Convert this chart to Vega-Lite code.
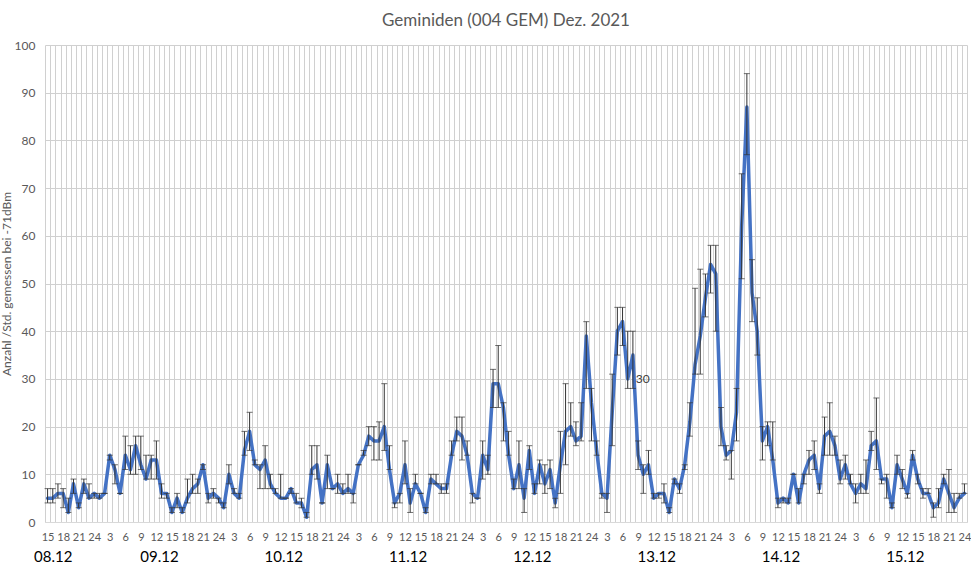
{
  "$schema": "https://vega.github.io/schema/vega-lite/v6.json",
  "description": "Geminiden (004 GEM) Dez. 2021 - stündliche Raten mit Fehlerbalken",
  "autosize": "none",
  "width": 922,
  "height": 477,
  "padding": {"left": 45, "top": 45, "right": 4, "bottom": 51},
  "background": "white",
  "title": {
    "text": "Geminiden (004 GEM) Dez. 2021",
    "fontSize": 17,
    "fontWeight": "normal",
    "color": "#595959",
    "font": "Lato",
    "offset": 9
  },
  "config": {
    "view": {"stroke": null},
    "font": "Lato"
  },
  "data": {
    "values": [
      {"i":0,"v":5,"lo":4,"hi":7},{"i":1,"v":5,"lo":4,"hi":7},{"i":2,"v":6,"lo":5,"hi":8},{"i":3,"v":6,"lo":3,"hi":7},
      {"i":4,"v":2,"lo":2,"hi":5},{"i":5,"v":8,"lo":6,"hi":9},{"i":6,"v":3,"lo":3,"hi":4},{"i":7,"v":8,"lo":6,"hi":9},
      {"i":8,"v":5,"lo":5,"hi":8},{"i":9,"v":6,"lo":5,"hi":6},{"i":10,"v":5,"lo":5,"hi":6},{"i":11,"v":6,"lo":6,"hi":6},
      {"i":12,"v":14,"lo":13,"hi":14},{"i":13,"v":11,"lo":8,"hi":12},{"i":14,"v":6,"lo":6,"hi":6},{"i":15,"v":14,"lo":11,"hi":18},
      {"i":16,"v":11,"lo":10,"hi":16},{"i":17,"v":16,"lo":10,"hi":18},{"i":18,"v":12,"lo":11,"hi":18},{"i":19,"v":9,"lo":9,"hi":14},
      {"i":20,"v":13,"lo":9,"hi":14},{"i":21,"v":13,"lo":9,"hi":17},{"i":22,"v":6,"lo":5,"hi":8},{"i":23,"v":6,"lo":5,"hi":6},
      {"i":24,"v":2,"lo":2,"hi":3},{"i":25,"v":5,"lo":3,"hi":6},{"i":26,"v":2,"lo":2,"hi":3},{"i":27,"v":5,"lo":4,"hi":9},
      {"i":28,"v":7,"lo":6,"hi":10},{"i":29,"v":8,"lo":6,"hi":9},{"i":30,"v":12,"lo":11,"hi":12},{"i":31,"v":5,"lo":4,"hi":6},
      {"i":32,"v":6,"lo":5,"hi":7},{"i":33,"v":5,"lo":4,"hi":5},{"i":34,"v":3,"lo":3,"hi":4},{"i":35,"v":10,"lo":8,"hi":12},
      {"i":36,"v":6,"lo":6,"hi":7},{"i":37,"v":5,"lo":5,"hi":6},{"i":38,"v":15,"lo":14,"hi":19},{"i":39,"v":19,"lo":15,"hi":23},
      {"i":40,"v":12,"lo":12,"hi":13},{"i":41,"v":11,"lo":7,"hi":12},{"i":42,"v":13,"lo":7,"hi":16},{"i":43,"v":8,"lo":7,"hi":10},
      {"i":44,"v":6,"lo":6,"hi":7},{"i":45,"v":5,"lo":5,"hi":10},{"i":46,"v":5,"lo":5,"hi":5},{"i":47,"v":7,"lo":6,"hi":7},
      {"i":48,"v":4,"lo":4,"hi":6},{"i":49,"v":4,"lo":3,"hi":5},{"i":50,"v":1,"lo":1,"hi":2},{"i":51,"v":11,"lo":10,"hi":16},
      {"i":52,"v":12,"lo":9,"hi":16},{"i":53,"v":4,"lo":4,"hi":4},{"i":54,"v":12,"lo":7,"hi":14},{"i":55,"v":7,"lo":7,"hi":7},
      {"i":56,"v":8,"lo":6,"hi":10},{"i":57,"v":6,"lo":6,"hi":8},{"i":58,"v":7,"lo":6,"hi":10},{"i":59,"v":6,"lo":4,"hi":6},
      {"i":60,"v":12,"lo":12,"hi":12},{"i":61,"v":14,"lo":14,"hi":15},{"i":62,"v":18,"lo":16,"hi":20},{"i":63,"v":17,"lo":13,"hi":20},
      {"i":64,"v":17,"lo":13,"hi":21},{"i":65,"v":20,"lo":15,"hi":29},{"i":66,"v":11,"lo":11,"hi":16},{"i":67,"v":4,"lo":3,"hi":4},
      {"i":68,"v":6,"lo":4,"hi":6},{"i":69,"v":12,"lo":8,"hi":17},{"i":70,"v":4,"lo":2,"hi":7},{"i":71,"v":8,"lo":8,"hi":10},
      {"i":72,"v":6,"lo":6,"hi":6},{"i":73,"v":2,"lo":2,"hi":3},{"i":74,"v":9,"lo":8,"hi":10},{"i":75,"v":8,"lo":8,"hi":10},
      {"i":76,"v":7,"lo":6,"hi":8},{"i":77,"v":7,"lo":6,"hi":8},{"i":78,"v":14,"lo":14,"hi":17},{"i":79,"v":19,"lo":17,"hi":22},
      {"i":80,"v":18,"lo":13,"hi":22},{"i":81,"v":14,"lo":14,"hi":17},{"i":82,"v":6,"lo":4,"hi":6},{"i":83,"v":5,"lo":5,"hi":5},
      {"i":84,"v":14,"lo":9,"hi":17},{"i":85,"v":11,"lo":10,"hi":14},{"i":86,"v":29,"lo":24,"hi":32},{"i":87,"v":29,"lo":24,"hi":37},
      {"i":88,"v":24,"lo":17,"hi":25},{"i":89,"v":14,"lo":14,"hi":19},{"i":90,"v":7,"lo":7,"hi":9},{"i":91,"v":12,"lo":7,"hi":17},
      {"i":92,"v":5,"lo":2,"hi":7},{"i":93,"v":15,"lo":11,"hi":16},{"i":94,"v":6,"lo":6,"hi":8},{"i":95,"v":12,"lo":8,"hi":13},
      {"i":96,"v":8,"lo":6,"hi":12},{"i":97,"v":11,"lo":7,"hi":13},{"i":98,"v":4,"lo":3,"hi":5},{"i":99,"v":12,"lo":6,"hi":19},
      {"i":100,"v":19,"lo":12,"hi":29},{"i":101,"v":20,"lo":18,"hi":25},{"i":102,"v":17,"lo":16,"hi":21},{"i":103,"v":18,"lo":17,"hi":25},
      {"i":104,"v":39,"lo":28,"hi":42},{"i":105,"v":25,"lo":17,"hi":28},{"i":106,"v":15,"lo":14,"hi":17},{"i":107,"v":6,"lo":5,"hi":6},
      {"i":108,"v":5,"lo":2,"hi":6},{"i":109,"v":23,"lo":16,"hi":31},{"i":110,"v":40,"lo":35,"hi":45},{"i":111,"v":42,"lo":37,"hi":45},
      {"i":112,"v":30,"lo":28,"hi":40},{"i":113,"v":35,"lo":28,"hi":40},{"i":114,"v":14,"lo":11,"hi":17},{"i":115,"v":10,"lo":6,"hi":12},
      {"i":116,"v":12,"lo":10,"hi":15},{"i":117,"v":5,"lo":5,"hi":6},{"i":118,"v":6,"lo":5,"hi":6},{"i":119,"v":6,"lo":4,"hi":8},
      {"i":120,"v":2,"lo":2,"hi":3},{"i":121,"v":9,"lo":8,"hi":9},{"i":122,"v":7,"lo":6,"hi":8},{"i":123,"v":12,"lo":11,"hi":12},
      {"i":124,"v":21,"lo":18,"hi":25},{"i":125,"v":33,"lo":31,"hi":49},{"i":126,"v":39,"lo":31,"hi":53},{"i":127,"v":47,"lo":43,"hi":52},
      {"i":128,"v":54,"lo":48,"hi":58},{"i":129,"v":52,"lo":40,"hi":58},{"i":130,"v":20,"lo":16,"hi":24},{"i":131,"v":14,"lo":13,"hi":16},
      {"i":132,"v":15,"lo":9,"hi":15},{"i":133,"v":23,"lo":17,"hi":28},{"i":134,"v":62,"lo":51,"hi":73},{"i":135,"v":87,"lo":77,"hi":94},
      {"i":136,"v":48,"lo":42,"hi":55},{"i":137,"v":40,"lo":35,"hi":47},{"i":138,"v":17,"lo":13,"hi":20},{"i":139,"v":20,"lo":16,"hi":21},
      {"i":140,"v":13,"lo":13,"hi":21},{"i":141,"v":4,"lo":3,"hi":5},{"i":142,"v":5,"lo":4,"hi":5},{"i":143,"v":4,"lo":4,"hi":5},
      {"i":144,"v":10,"lo":10,"hi":10},{"i":145,"v":4,"lo":4,"hi":7},{"i":146,"v":10,"lo":8,"hi":10},{"i":147,"v":13,"lo":10,"hi":15},
      {"i":148,"v":14,"lo":11,"hi":17},{"i":149,"v":7,"lo":6,"hi":8},{"i":150,"v":18,"lo":14,"hi":22},{"i":151,"v":19,"lo":14,"hi":25},
      {"i":152,"v":16,"lo":14,"hi":18},{"i":153,"v":9,"lo":8,"hi":13},{"i":154,"v":12,"lo":9,"hi":14},{"i":155,"v":8,"lo":8,"hi":10},
      {"i":156,"v":6,"lo":4,"hi":8},{"i":157,"v":8,"lo":6,"hi":10},{"i":158,"v":7,"lo":6,"hi":13},{"i":159,"v":16,"lo":15,"hi":19},
      {"i":160,"v":17,"lo":11,"hi":26},{"i":161,"v":9,"lo":8,"hi":9},{"i":162,"v":9,"lo":5,"hi":10},{"i":163,"v":3,"lo":3,"hi":4},
      {"i":164,"v":12,"lo":10,"hi":14},{"i":165,"v":9,"lo":7,"hi":11},{"i":166,"v":6,"lo":5,"hi":6},{"i":167,"v":14,"lo":13,"hi":15},
      {"i":168,"v":9,"lo":8,"hi":10},{"i":169,"v":6,"lo":5,"hi":7},{"i":170,"v":6,"lo":6,"hi":7},{"i":171,"v":3,"lo":1,"hi":4},
      {"i":172,"v":4,"lo":3,"hi":7},{"i":173,"v":9,"lo":8,"hi":10},{"i":174,"v":6,"lo":2,"hi":11},{"i":175,"v":3,"lo":2,"hi":6},
      {"i":176,"v":5,"lo":5,"hi":6},{"i":177,"v":6,"lo":6,"hi":8}
    ]
  },
  "resolve": {"axis": {"x": "independent", "y": "independent"}},
  "layer": [
    {
      "mark": {"type": "line", "color": "#4472C4", "strokeWidth": 3.5, "strokeJoin": "round", "strokeCap": "round"},
      "encoding": {
        "x": {
          "field": "i",
          "type": "quantitative",
          "scale": {"domain": [-0.5, 177.5], "nice": false, "zero": false},
          "axis": {
            "orient": "bottom",
            "title": null,
            "labels": false,
            "ticks": false,
            "domain": true,
            "domainColor": "#d9d9d9",
            "grid": true,
            "gridColor": "#d0d0d0",
            "values": [-0.5,0.5,1.5,2.5,3.5,4.5,5.5,6.5,7.5,8.5,9.5,10.5,11.5,12.5,13.5,14.5,15.5,16.5,17.5,18.5,19.5,20.5,21.5,22.5,23.5,24.5,25.5,26.5,27.5,28.5,29.5,30.5,31.5,32.5,33.5,34.5,35.5,36.5,37.5,38.5,39.5,40.5,41.5,42.5,43.5,44.5,45.5,46.5,47.5,48.5,49.5,50.5,51.5,52.5,53.5,54.5,55.5,56.5,57.5,58.5,59.5,60.5,61.5,62.5,63.5,64.5,65.5,66.5,67.5,68.5,69.5,70.5,71.5,72.5,73.5,74.5,75.5,76.5,77.5,78.5,79.5,80.5,81.5,82.5,83.5,84.5,85.5,86.5,87.5,88.5,89.5,90.5,91.5,92.5,93.5,94.5,95.5,96.5,97.5,98.5,99.5,100.5,101.5,102.5,103.5,104.5,105.5,106.5,107.5,108.5,109.5,110.5,111.5,112.5,113.5,114.5,115.5,116.5,117.5,118.5,119.5,120.5,121.5,122.5,123.5,124.5,125.5,126.5,127.5,128.5,129.5,130.5,131.5,132.5,133.5,134.5,135.5,136.5,137.5,138.5,139.5,140.5,141.5,142.5,143.5,144.5,145.5,146.5,147.5,148.5,149.5,150.5,151.5,152.5,153.5,154.5,155.5,156.5,157.5,158.5,159.5,160.5,161.5,162.5,163.5,164.5,165.5,166.5,167.5,168.5,169.5,170.5,171.5,172.5,173.5,174.5,175.5,176.5,177.5]
          }
        },
        "y": {
          "field": "v",
          "type": "quantitative",
          "scale": {"domain": [0, 100], "nice": false},
          "axis": {
            "orient": "left",
            "title": "Anzahl /Std.  gemessen bei -71dBm",
            "titleFontSize": 12,
            "titleFontWeight": "normal",
            "titleColor": "#595959",
            "titlePadding": 1,
            "values": [0,10,20,30,40,50,60,70,80,90,100],
            "labelFontSize": 12,
            "labelColor": "#595959",
            "labelPadding": 10,
            "ticks": false,
            "domain": false,
            "grid": true,
            "gridColor": "#d0d0d0"
          }
        }
      }
    },
    {
      "mark": {"type": "errorbar", "ticks": {"size": 6, "color": "#333333"}, "color": "#333333", "thickness": 1},
      "encoding": {
        "x": {
          "field": "i",
          "type": "quantitative",
          "axis": {
            "orient": "bottom",
            "title": null,
            "grid": false,
            "ticks": false,
            "domain": false,
            "labelFontSize": 11,
            "labelColor": "#595959",
            "labelPadding": 9,
            "labelExpr": "datum.value < 10 ? datum.value + 15 : ((datum.value - 10) % 24) + 1",
            "values": [0,3,6,9,12,15,18,21,24,27,30,33,36,39,42,45,48,51,54,57,60,63,66,69,72,75,78,81,84,87,90,93,96,99,102,105,108,111,114,117,120,123,126,129,132,135,138,141,144,147,150,153,156,159,162,165,168,171,174,177]
          }
        },
        "y": {"field": "lo", "type": "quantitative", "axis": null},
        "y2": {"field": "hi"}
      }
    },
    {
      "transform": [{"filter": "datum.i == 112"}],
      "mark": {"type": "text", "align": "left", "dx": 8, "fontSize": 12, "color": "#404040"},
      "encoding": {
        "x": {
          "field": "i",
          "type": "quantitative",
          "axis": {
            "orient": "bottom",
            "title": null,
            "grid": false,
            "ticks": false,
            "domain": false,
            "labelFontSize": 15,
            "labelColor": "#000000",
            "labelPadding": 27,
            "labelExpr": "(datum.value < 10 ? '08' : ((9 + floor((datum.value - 10) / 24)) < 10 ? '0' : '') + (9 + floor((datum.value - 10) / 24))) + '.12'",
            "values": [1, 21.5, 45.5, 69.5, 93.5, 117.5, 141.5, 165.5]
          }
        },
        "y": {"field": "v", "type": "quantitative", "axis": null},
        "text": {"field": "v", "type": "quantitative"}
      }
    }
  ]
}
